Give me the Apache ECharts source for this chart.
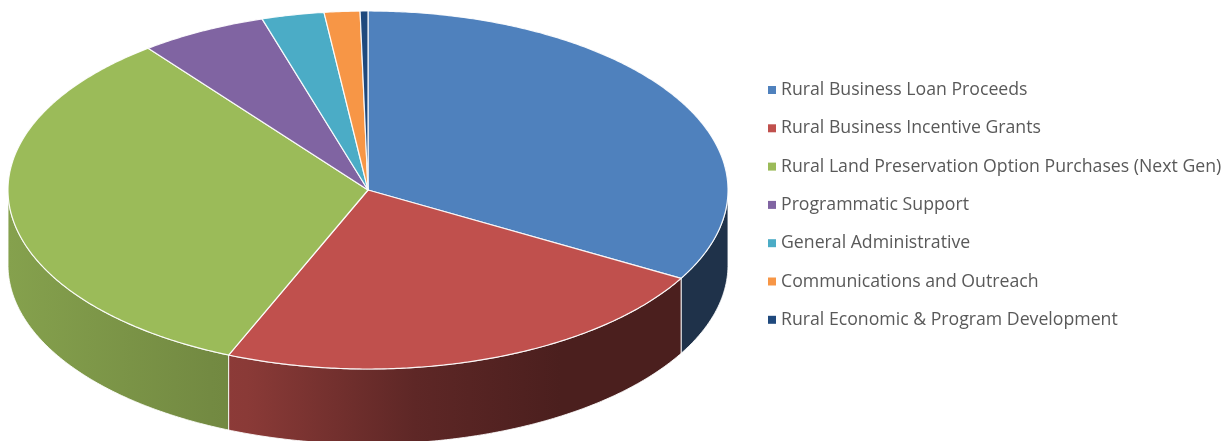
<!DOCTYPE html>
<html>
<head>
<meta charset="utf-8">
<script src="https://cdn.jsdelivr.net/npm/echarts@6/dist/echarts.min.js"></script>
<style>html,body{margin:0;padding:0;background:#fff;}#chart{width:1231px;height:441px;}</style>
</head>
<body>
<div id="chart"></div>
<script>
const categories = [
  'Rural Business Loan Proceeds',
  'Rural Business Incentive Grants',
  'Rural Land Preservation Option Purchases (Next Gen)',
  'Programmatic Support',
  'General Administrative',
  'Communications and Outreach',
  'Rural Economic & Program Development'
];
const values = [33.2, 23.1, 33.2, 5.7, 2.8, 1.6, 0.35];
const palette = ['#4F81BD', '#C0504D', '#9BBB59', '#8064A2', '#4BACC6', '#F79646', '#1F497D'];

const total = values.reduce((a, b) => a + b, 0);
const CX = 368, CY = 190, RX = 360, RY = 179, DEPTH = 75;

function shade(hex, f) {
  const n = parseInt(hex.slice(1), 16);
  const r = Math.round(((n >> 16) & 255) * f);
  const g = Math.round(((n >> 8) & 255) * f);
  const b = Math.round((n & 255) * f);
  return 'rgb(' + r + ',' + g + ',' + b + ')';
}
function pt(deg, dy) {
  const t = deg * Math.PI / 180;
  return [CX + RX * Math.sin(t), CY - RY * Math.cos(t) + (dy || 0)];
}
function arc(a, b, dy) {
  const pts = [];
  const n = Math.max(2, Math.ceil(Math.abs(b - a) / 0.5));
  for (let k = 0; k <= n; k++) pts.push(pt(a + (b - a) * k / n, dy));
  return pts;
}

const lightStops = [[0, 0.86], [0.281, 0.74], [0.332, 0.72], [0.565, 0.49], [0.767, 0.39], [1, 0.39]];

const series = categories.map((name, i) => ({
  type: 'custom',
  name: name,
  coordinateSystem: 'none',
  data: [values[i]],
  itemStyle: { color: palette[i] },
  renderItem: function (params, api) {
    const v = api.value(0);
    let before = 0;
    for (let j = 0; j < i; j++) before += values[j];
    const a0 = before / total * 360;
    const a1 = (before + v) / total * 360;
    const children = [];
    const wa = Math.max(a0, 90), wb = Math.min(a1, 270);
    if (wb > wa) {
      const top = arc(wa, wb, 0);
      const bot = arc(wb, wa, DEPTH);
      children.push({
        type: 'polygon',
        z2: 1,
        shape: { points: top.concat(bot) },
        style: {
          fill: {
            type: 'linear', x: CX - RX, y: 0, x2: CX + RX, y2: 0, global: true,
            colorStops: lightStops.map(s => ({ offset: s[0], color: shade(palette[i], s[1]) }))
          },
          stroke: 'rgba(255,255,255,0.85)',
          lineWidth: 1
        }
      });
    }
    children.push({
      type: 'polygon',
      z2: 2,
      shape: { points: [[CX, CY]].concat(arc(a0, a1, 0)) },
      style: { fill: palette[i], stroke: 'rgba(255,255,255,0.9)', lineWidth: 1.2, lineJoin: 'round' }
    });
    return { type: 'group', children: children };
  }
}));

const chart = echarts.init(document.getElementById('chart'), null, { renderer: 'canvas' });
chart.setOption({
  animation: false,
  backgroundColor: '#ffffff',
  legend: {
    orient: 'vertical',
    left: 763,
    top: 75,
    icon: 'rect',
    itemWidth: 8,
    itemHeight: 8,
    itemGap: 18.3,
    selectedMode: false,
    data: categories,
    textStyle: { color: '#595959', fontSize: 17.7, fontFamily: 'Open Sans', lineHeight: 20, padding: [0, 0, 0, 0] }
  },
  series: series
});
</script>
</body>
</html>
